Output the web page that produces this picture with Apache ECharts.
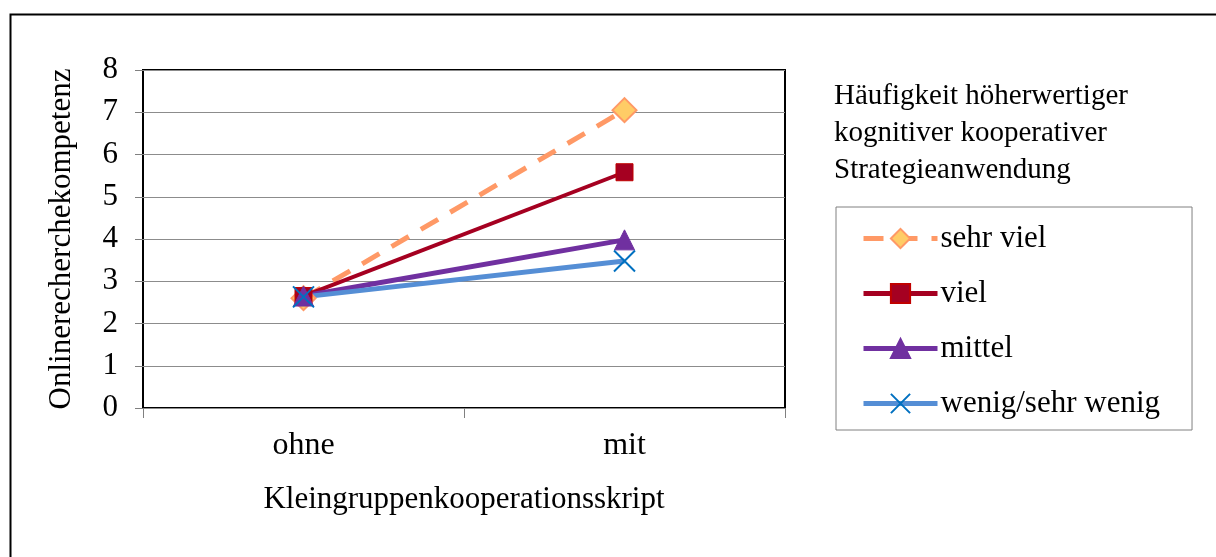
<!DOCTYPE html>
<html><head><meta charset="utf-8">
<script src="https://cdn.jsdelivr.net/npm/echarts@6/dist/echarts.min.js"></script>
<style>html,body{margin:0;padding:0;background:#fff}#c{width:1216px;height:557px}</style>
</head><body><div id="c"></div>
<script>
const categories = ['ohne', 'mit'];
const seriesNames = ['sehr viel', 'viel', 'mittel', 'wenig/sehr wenig'];
const sehrViel = [2.6, 7.05];
const viel = [2.65, 5.58];
const mittel = [2.65, 3.98];
const wenig = [2.63, 3.48];
const yTicks = [0, 1, 2, 3, 4, 5, 6, 7, 8];

const FONT = '"Liberation Serif", "DejaVu Serif", serif';
const chart = echarts.init(document.getElementById('c'));
const xPath = 'path://M0,0 L10,10 M10,0 L0,10';
chart.setOption({
  animation: false,
  textStyle: { fontFamily: FONT, color: '#000' },
  grid: { left: 143, top: 70, width: 642, height: 338, show: true, borderColor: '#000', borderWidth: 2, backgroundColor: 'transparent' },
  title: {
    text: 'Häufigkeit höherwertiger\nkognitiver kooperativer\nStrategieanwendung',
    left: 829, top: 73,
    textStyle: { fontFamily: FONT, fontSize: 29, fontWeight: 'normal', color: '#000', lineHeight: 37 }
  },
  legend: {
    orient: 'vertical', left: 836, top: 207,
    padding: [16, 32, 11, 25],
    borderColor: '#808080', borderWidth: 1,
    itemWidth: 74, itemHeight: 24, itemGap: 24,
    data: seriesNames,
    lineStyle: { width: 5 },
    textStyle: { fontFamily: FONT, fontSize: 31, color: '#000', padding: [0, 0, 0, -2] }
  },
  xAxis: {
    type: 'category', data: categories, boundaryGap: true,
    name: 'Kleingruppenkooperationsskript', nameLocation: 'middle', nameGap: 76,
    nameTextStyle: { fontFamily: FONT, fontSize: 31, color: '#000' },
    axisLine: { show: false },
    axisTick: { show: true, length: 10, interval: 0, lineStyle: { color: '#808080' } },
    axisLabel: { fontFamily: FONT, fontSize: 32, color: '#000', margin: 22 }
  },
  yAxis: {
    type: 'value', min: yTicks[0], max: yTicks[yTicks.length - 1], interval: 1,
    name: 'Onlinerecherchekompetenz', nameLocation: 'middle', nameGap: 66,
    nameTextStyle: { fontFamily: FONT, fontSize: 31, color: '#000' },
    axisLine: { show: false },
    axisTick: { show: true, length: 8, lineStyle: { color: '#808080' } },
    axisLabel: { fontFamily: FONT, fontSize: 31, color: '#000', margin: 25 },
    splitLine: { lineStyle: { color: '#8c8c8c', width: 1 } }
  },
  series: [
    { name: seriesNames[0], type: 'line', data: sehrViel, symbol: 'diamond', symbolSize: 24,
      lineStyle: { color: '#FF9966', width: 5, type: [20, 14] },
      itemStyle: { color: '#FFCC66', borderColor: '#FF9966', borderWidth: 2 } },
    { name: seriesNames[1], type: 'line', data: viel, symbol: 'rect', symbolSize: 17,
      lineStyle: { color: '#A50021', width: 4 },
      itemStyle: { color: '#A50021', borderColor: '#C00000', borderWidth: 1 } },
    { name: seriesNames[2], type: 'line', data: mittel, symbol: 'triangle', symbolSize: 20,
      lineStyle: { color: '#7030A0', width: 5 },
      itemStyle: { color: '#7030A0', borderColor: '#7030A0', borderWidth: 1 } },
    { name: seriesNames[3], type: 'line', data: wenig, symbol: xPath, symbolSize: 21,
      lineStyle: { color: '#558ED5', width: 5 },
      itemStyle: { color: 'none', borderColor: '#0070C0', borderWidth: 2 } }
  ],
  graphic: [
    { type: 'rect', left: 8, top: 12, shape: { width: 1230, height: 570 }, style: { fill: 'none', stroke: '#000', lineWidth: 2 }, silent: true, z: -1 }
  ]
});
</script></body></html>
